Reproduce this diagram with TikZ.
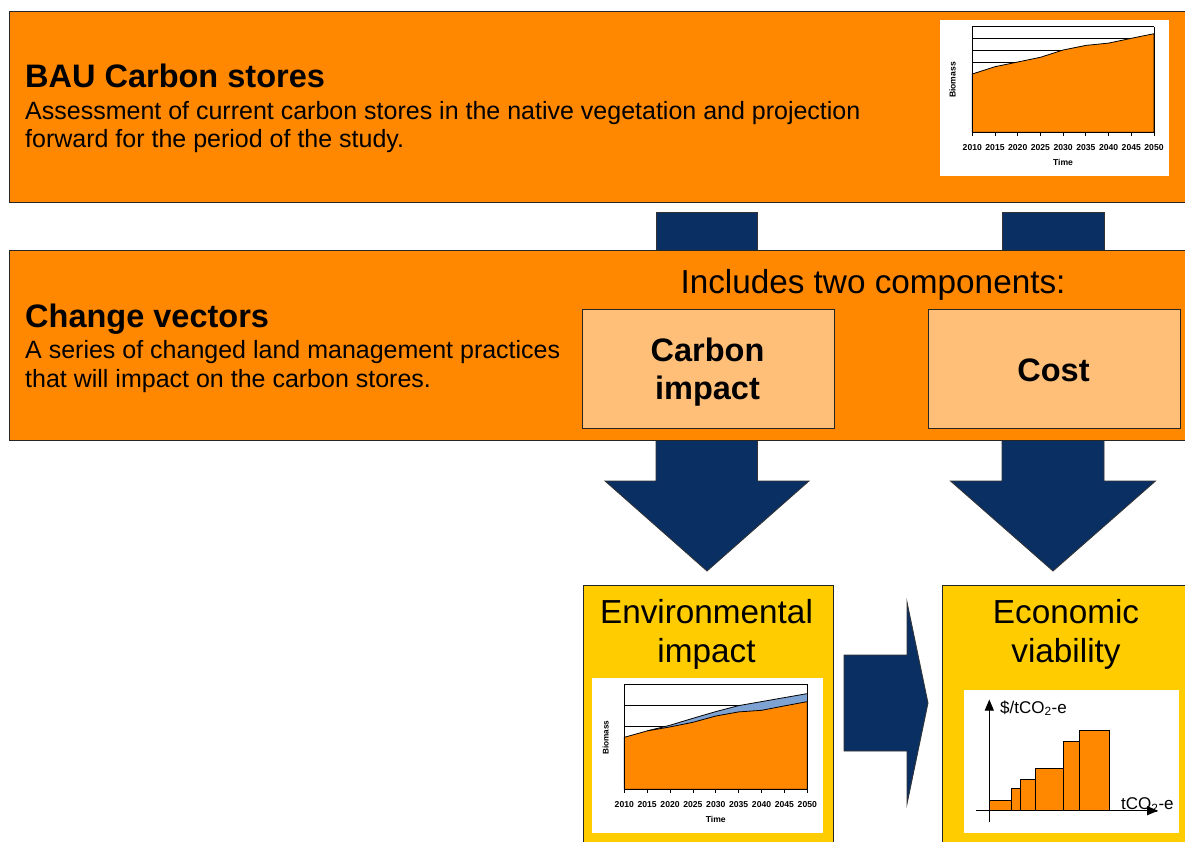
\documentclass[tikz,border=0pt]{standalone}
\usepackage{fontspec}
\setmainfont{Liberation Sans}
\usetikzlibrary{arrows.meta}

\definecolor{bauorange}{HTML}{FF8800}
\definecolor{paleorange}{HTML}{FFBF78}
\definecolor{goldbox}{HTML}{FFCC00}
\definecolor{navy}{HTML}{0A2F62}
\definecolor{gainblue}{HTML}{7EA2D1}

\newcommand\pxfont[1]{\fontsize{#1}{#1}\selectfont}

\begin{document}
\begin{tikzpicture}[x=1pt,y=-1pt,
  panel/.style={draw=black!85, line width=1.4pt, fill=bauorange, inner sep=0pt, anchor=north west},
  component/.style={draw=black!85, line width=1.2pt, fill=paleorange, inner sep=0pt, anchor=north west},
  outcome/.style={draw=black!85, line width=1.2pt, fill=goldbox, inner sep=0pt, anchor=north west},
  blockarrow/.style={fill=navy, draw=black!80, line width=0.8pt, line join=miter},
  heading/.style={font=\bfseries\pxfont{32.5}, anchor=base west, inner sep=0pt},
  body/.style={font=\pxfont{25}, anchor=base west, inner sep=0pt},
  bigtext/.style={font=\pxfont{33.3}, anchor=base, inner sep=0pt},
  bigbold/.style={font=\bfseries\pxfont{32.5}, anchor=base, inner sep=0pt},
  gridline/.style={draw=black, line width=0.7pt},
  axisline/.style={draw=black, line width=1pt},
  areafill/.style={fill=bauorange, draw=black, line width=0.8pt, line join=round},
  yearlabel/.style={font=\bfseries\pxfont{8.6}, anchor=base, inner sep=0pt},
  axislabel/.style={font=\bfseries\pxfont{8.6}, inner sep=0pt},
  costlabel/.style={font=\pxfont{17}, anchor=west, inner sep=0pt},
  bar/.style={fill=bauorange, draw=black, line width=1pt}
]
\useasboundingbox (0,0) rectangle (1185,841);
\fill[white] (0,0) rectangle (1185,841);
\clip (0,0) rectangle (1185,841);

% ---------- block arrows behind the panels ----------
\draw[blockarrow] (656,212.5) rectangle (757.5,270);
\draw[blockarrow] (1002,212.5) rectangle (1104,270);
\draw[blockarrow] (656,420) -- (656,481) -- (605,481) -- (707,571)
  -- (809,481) -- (757.5,481) -- (757.5,420) -- cycle;
\draw[blockarrow] (1002,420) -- (1002,481) -- (950.5,481) -- (1053,571)
  -- (1155.5,481) -- (1104,481) -- (1104,420) -- cycle;

% ---------- panels ----------
\node[panel, minimum width=1200pt, minimum height=191.5pt] (bau) at (9,10.5) {};
\node[panel, minimum width=1200pt, minimum height=190pt] (change) at (9,249.5) {};
\node[component, minimum width=251.5pt, minimum height=119pt] (carbon) at (582,308.5) {};
\node[component, minimum width=251.5pt, minimum height=119pt] (cost) at (928,308.5) {};
\node[outcome, minimum width=250.5pt, minimum height=300pt] (env) at (582.5,585) {};
\node[outcome, minimum width=300pt, minimum height=300pt] (eco) at (941.5,585) {};

% arrow from environmental impact to economic viability
\draw[blockarrow] (844,655) -- (907,655) -- (907,602) -- (928,703)
  -- (907,804) -- (907,751) -- (844,751) -- cycle;

% ---------- texts ----------
\node[heading] (bautitle) at (25,87.5) {BAU Carbon stores};
\node[body] (baudesca) at (25,119) {Assessment of current carbon stores in the native vegetation and projection};
\node[body] (baudescb) at (25,147) {forward for the period of the study.};

\node[heading] (cvtitle) at (25,327.5) {Change vectors};
\node[body] (cvdesca) at (25,358) {A series of changed land management practices};
\node[body] (cvdescb) at (25,387) {that will impact on the carbon stores.};

\node[bigtext] (includes) at (873,293.3) {Includes two components:};
\node[bigbold] (carbona) at (707.5,361.7) {Carbon};
\node[bigbold] (carbonb) at (707.5,399) {impact};
\node[bigbold] (costtext) at (1053.5,381) {Cost};

\node[bigtext] (enva) at (706.5,623.3) {Environmental};
\node[bigtext] (envb) at (706.5,662.7) {impact};
\node[bigtext] (ecoa) at (1066,623.3) {Economic};
\node[bigtext] (ecob) at (1066,662.7) {viability};

% ---------- BAU biomass chart ----------
\fill[white] (940,20) rectangle (1169,175.5);
\foreach \k in {0,...,8}
  \draw[gridline] (972.3,26.7+\k*11.733) -- (1154,26.7+\k*11.733);
\draw[areafill] (972.3,132.3) -- (972.3,74.0) -- (995.0,66.7) -- (1017.7,62.0)
  -- (1040.4,57.3) -- (1063.1,50.0) -- (1085.9,45.4) -- (1108.6,43.1)
  -- (1131.3,38.3) -- (1154,33.7) -- (1154,132.3) -- cycle;
\draw[axisline] (972.3,26.7) -- (972.3,132.3) -- (1154,132.3) -- (1154,26.7);
\foreach \yr [count=\i from 0] in {2010,2015,...,2050} {
  \pgfmathsetmacro\xx{972.3+\i*22.7125}
  \draw[line width=0.8pt] (\xx,132.3) -- (\xx,135.8);
  \node[yearlabel] (bauyr\i) at (\xx,150) {\yr};
}
\node[yearlabel] (bautime) at (1063,165) {Time};
\node[axislabel, rotate=90] (baubio) at (952.5,80) {Biomass};

% ---------- environmental impact chart ----------
\fill[white] (592,678.3) rectangle (823,833);
\foreach \k in {0,...,4}
  \draw[gridline] (624.3,684.3+\k*21) -- (807.3,684.3+\k*21);
\fill[gainblue] (647.2,730.9) -- (670.1,725.2) -- (692.9,718.3) -- (715.8,711.6)
  -- (738.7,705.6) -- (761.6,701.6) -- (784.4,697.6) -- (807.3,693.6)
  -- (807.3,789.3) -- (647.2,789.3) -- cycle;
\draw[line width=0.8pt, line join=round] (647.2,730.9) -- (670.1,725.2) -- (692.9,718.3)
  -- (715.8,711.6) -- (738.7,705.6) -- (761.6,701.6) -- (784.4,697.6) -- (807.3,693.6);
\draw[areafill] (624.3,789.3) -- (624.3,737.3) -- (647.2,730.9) -- (670.1,726.9)
  -- (692.9,722.3) -- (715.8,716.0) -- (738.7,711.9) -- (761.6,710.3)
  -- (784.4,705.9) -- (807.3,701.6) -- (807.3,789.3) -- cycle;
\draw[axisline] (624.3,684.3) -- (624.3,789.3) -- (807.3,789.3) -- (807.3,684.3);
\foreach \yr [count=\i from 0] in {2010,2015,...,2050} {
  \pgfmathsetmacro\xx{624.3+\i*22.875}
  \draw[line width=0.8pt] (\xx,789.3) -- (\xx,792.8);
  \node[yearlabel] (envyr\i) at (\xx,807.5) {\yr};
}
\node[yearlabel] (envtime) at (715.8,822.5) {Time};
\node[axislabel, rotate=90, font=\bfseries\pxfont{8.2}] (envbio) at (605.7,737.7) {Biomass};

% ---------- economic viability chart ----------
\fill[white] (964.3,690) rectangle (1179,832.7);
\node[costlabel] (pricelabel) at (1000,708) {\$/tCO\textsubscript{2}-e};
\node[costlabel] (qtylabel) at (1121,805) {tCO\textsubscript{2}-e};
\draw[bar] (989.3,810.7) rectangle (1011.7,800);
\draw[bar] (1011.7,810.7) rectangle (1020,788.3);
\draw[bar] (1020,810.7) rectangle (1035,779);
\draw[bar] (1035,810.7) rectangle (1063.3,768.3);
\draw[bar] (1063.3,810.7) rectangle (1079.3,741.3);
\draw[bar] (1079.3,810.7) rectangle (1109.3,730.3);
\draw[line width=1pt, -{Triangle[length=11pt,width=9pt]}] (989.3,821.7) -- (989.3,699.5);
\draw[line width=1pt, -{Triangle[length=11pt,width=9pt]}] (975.7,810.7) -- (1158,810.7);
\end{tikzpicture}
\end{document}
